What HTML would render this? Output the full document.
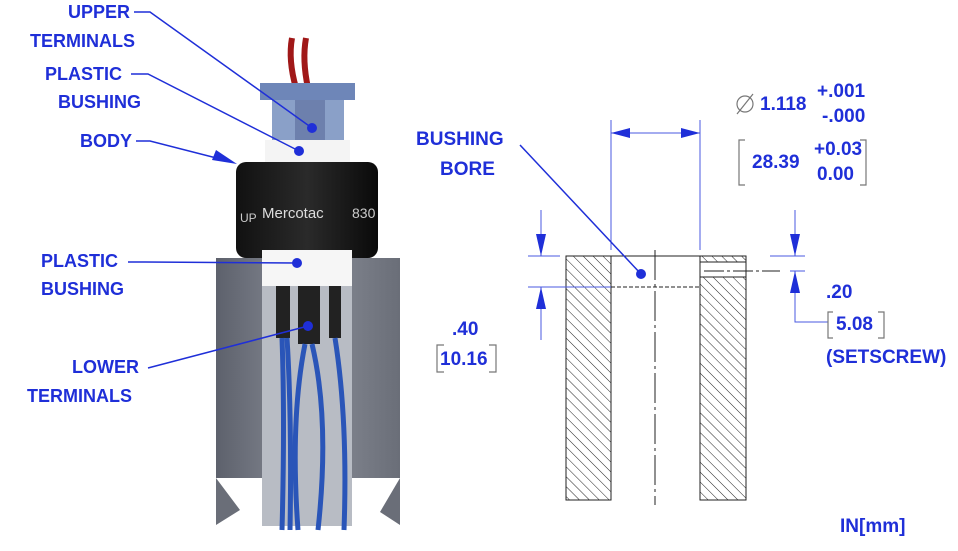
<!DOCTYPE html>
<html><head><style>
body{margin:0;background:#fff}
svg text{font-family:"Liberation Sans",sans-serif;font-weight:bold;fill:#1f2fd8}
</style></head><body>
<svg width="958" height="546" viewBox="0 0 958 546" xmlns="http://www.w3.org/2000/svg">
<defs>
<pattern id="h" width="7" height="7" patternUnits="userSpaceOnUse" patternTransform="rotate(-45)">
<line x1="0" y1="0" x2="0" y2="7" stroke="#222" stroke-width="1"/></pattern>
<linearGradient id="blk" x1="0" x2="1"><stop offset="0" stop-color="#111"/><stop offset=".5" stop-color="#2a2a2a"/><stop offset="1" stop-color="#0a0a0a"/></linearGradient>
<linearGradient id="gr" x1="0" x2="1"><stop offset="0" stop-color="#5d616c"/><stop offset=".5" stop-color="#8a8e98"/><stop offset="1" stop-color="#6a6e78"/></linearGradient>
</defs>
<!-- product -->
<rect x="216" y="258" width="184" height="220" fill="url(#gr)"/>
<path d="M216 478 L216 525 L240 510 Z" fill="#6a6e78"/>
<path d="M400 478 L400 525 L380 512 Z" fill="#6a6e78"/>
<rect x="262" y="280" width="90" height="246" fill="#b8bcc4"/>
<path d="M292 38 Q288 60 296 88" stroke="#a01818" stroke-width="6" fill="none"/>
<path d="M306 38 Q302 60 308 88" stroke="#a01818" stroke-width="6" fill="none"/>
<rect x="260" y="83" width="95" height="17" fill="#6e86b8"/>
<rect x="272" y="100" width="72" height="40" fill="#8aa0c8"/>
<rect x="295" y="100" width="30" height="40" fill="#6d80ad"/>
<rect x="265" y="140" width="85" height="25" fill="#f4f4f4"/>
<rect x="236" y="162" width="142" height="96" rx="10" fill="url(#blk)"/>
<text x="262" y="218" style="fill:#ddd;font-weight:normal;font-size:15px">Mercotac</text>
<text x="352" y="218" style="fill:#ccc;font-weight:normal;font-size:14px">830</text>
<text x="240" y="222" style="fill:#ccc;font-weight:normal;font-size:12px">UP</text>
<rect x="262" y="250" width="90" height="36" fill="#f6f6f6"/>
<rect x="276" y="286" width="14" height="52" fill="#222"/>
<rect x="298" y="286" width="22" height="58" fill="#222"/>
<rect x="329" y="286" width="12" height="52" fill="#222"/>
<g stroke="#2a55b8" stroke-width="5" fill="none">
<path d="M282 338 Q285 420 282 530"/><path d="M287 338 Q292 420 290 530"/>
<path d="M305 344 Q290 420 298 530"/><path d="M312 344 Q330 420 318 530"/>
<path d="M335 338 Q348 420 344 530"/></g>
<!-- left labels -->
<g font-size="18">
<text x="68" y="18">UPPER</text><text x="30" y="47">TERMINALS</text>
<text x="45" y="80">PLASTIC</text><text x="58" y="108">BUSHING</text>
<text x="80" y="147">BODY</text>
<text x="41" y="267">PLASTIC</text><text x="41" y="295">BUSHING</text>
<text x="72" y="373">LOWER</text><text x="27" y="402">TERMINALS</text>
</g>
<g stroke="#1f2fd8" stroke-width="1.5" fill="none">
<path d="M134 12 H150 L312 128"/><path d="M131 74 H148 L299 151"/>
<path d="M136 141 H150 L232 162"/><path d="M128 262 H145 L297 263"/>
<path d="M148 368 L308 326"/>
</g>
<path d="M237 164 L212 160 L216 150 Z" fill="#1f2fd8"/>
<g fill="#1f2fd8"><circle cx="312" cy="128" r="5"/><circle cx="299" cy="151" r="5"/><circle cx="297" cy="263" r="5"/><circle cx="308" cy="326" r="5"/></g>
<!-- right drawing -->
<rect x="566" y="256" width="45" height="244" fill="url(#h)" stroke="#222"/>
<rect x="700" y="256" width="46" height="244" fill="url(#h)" stroke="#222"/>
<rect x="700" y="262" width="46" height="15" fill="#fff" stroke="#222"/>
<line x1="611" y1="256" x2="700" y2="256" stroke="#222"/>
<line x1="611" y1="287" x2="700" y2="287" stroke="#222" stroke-dasharray="4 2"/>
<line x1="655" y1="250" x2="655" y2="505" stroke="#222" stroke-dasharray="30 4 3 4"/>
<line x1="704" y1="271" x2="780" y2="271" stroke="#222" stroke-dasharray="20 3 3 3"/>
<g stroke="#4a5ae0" stroke-width="1" fill="none">
<line x1="611" y1="120" x2="611" y2="250"/><line x1="700" y1="120" x2="700" y2="250"/>
<line x1="611" y1="133" x2="700" y2="133"/>
<line x1="528" y1="256" x2="560" y2="256"/><line x1="528" y1="287" x2="611" y2="287"/>
<line x1="541" y1="210" x2="541" y2="256"/><line x1="541" y1="287" x2="541" y2="340"/>
<line x1="770" y1="256" x2="805" y2="256"/><line x1="790" y1="271" x2="805" y2="271"/>
<line x1="795" y1="210" x2="795" y2="256"/><path d="M795 271 V322 H828"/>
</g>
<g fill="#1f2fd8">
<path d="M611 133 L630 128 L630 138Z"/><path d="M700 133 L681 128 L681 138Z"/>
<path d="M541 256 L536 234 L546 234Z"/><path d="M541 287 L536 309 L546 309Z"/>
<path d="M795 256 L790 234 L800 234Z"/><path d="M795 271 L790 293 L800 293Z"/>
<circle cx="641" cy="274" r="5"/></g>
<path d="M520 145 L641 274" stroke="#1f2fd8" stroke-width="1.5"/>
<g font-size="19">
<text x="416" y="145">BUSHING</text><text x="440" y="175">BORE</text>
<text x="452" y="335">.40</text><text x="440" y="365">10.16</text>
<text x="826" y="298">.20</text><text x="836" y="330">5.08</text>
<text x="826" y="363">(SETSCREW)</text>
<text x="760" y="110">1.118</text><text x="817" y="97">+.001</text><text x="822" y="122">-.000</text>
<text x="752" y="168">28.39</text><text x="814" y="155">+0.03</text><text x="817" y="180">0.00</text>
<text x="840" y="532">IN[mm]</text>
</g>
<g stroke="#777" fill="none" stroke-width="1.2">
<circle cx="745" cy="104" r="8"/><line x1="737" y1="114" x2="753" y2="94"/>
<path d="M444 345 H437 V372 H444"/><path d="M489 345 H496 V372 H489"/>
<path d="M833 312 H828 V338 H833"/><path d="M878 312 H884 V338 H878"/>
<path d="M745 140 H739 V185 H745"/><path d="M860 140 H866 V185 H860"/>
</g>
</svg>
</body></html>
